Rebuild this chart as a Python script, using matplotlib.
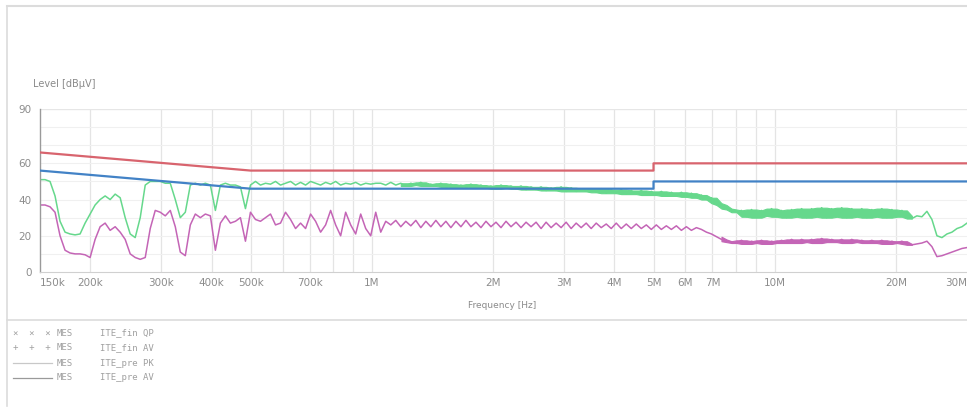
import numpy as np
import matplotlib
matplotlib.use("Agg")
import matplotlib.pyplot as plt
from matplotlib.lines import Line2D
from matplotlib.ticker import FixedLocator, NullFormatter

# ---------------- data ----------------
# scan settings (Hz)
scan_start = 150e3
scan_stop = 30e6

# limit lines (frequency in MHz, level in dBuV)
limit_f = [0.15, 0.5, 5.0, 5.0, 30.0]
qp_limit = [66, 56, 56, 60, 60]
av_limit = [56, 46, 46, 50, 50]

# peak / quasi-peak trace (dBuV), equally spaced on the log-frequency scan
trace_pk = [51, 51, 50, 42, 28, 22, 21, 20.5, 21, 27,
            32, 37, 40, 42, 40, 43, 41, 30, 21, 19,
            30, 48, 50, 50, 50, 49, 49, 40, 30, 33,
            48, 49, 48, 49, 48, 34, 48, 49, 48, 48,
            47, 35, 48, 50, 48, 49, 48.5, 50, 48, 49,
            50, 48, 49.5, 48, 50, 49, 48, 49.5, 48.5, 50,
            48, 49, 48.5, 49.5, 48, 49, 48.5, 49,
            49, 48, 49.5, 48, 49, 47.5, 49, 48, 49.5, 47.5, 48.5, 47.5, 49,
            47, 48.5, 46.5, 48, 47, 48.5, 46.5, 48, 46.5, 47.5, 46, 48, 46.5, 47.5, 46,
            47.5, 45.5, 47, 45.5, 47, 45, 46.5, 45, 47, 44.5, 46.5, 44.5, 46, 44.5, 46,
            44, 46, 43.5, 45.5, 43.5, 45.5, 43, 45, 43, 45, 42.5, 44.5,
            42.5, 44.5, 42, 44, 42, 44, 41.5, 43.5, 41,
            42.5, 40, 41, 38, 37, 35, 34.5, 33,
            34, 30.5, 34.5, 30, 34, 31, 35, 30.5, 34, 30,
            34.5, 30.5, 35, 30, 35, 30.5, 35.5, 30, 35, 30.5,
            35.5, 30, 35, 30.5, 35, 30, 34.5, 30.5, 35, 30,
            34.5, 30.5, 34,
            31, 29.5, 31, 30.5, 33.5,
            29, 20, 19, 21, 22, 24, 25, 27]

# average trace (dBuV)
trace_av = [37, 37, 36, 33, 20, 12, 10.5, 10, 10, 9.5,
            8, 18, 25, 27, 23, 25, 22, 18, 10, 8,
            7, 8, 24, 34, 33, 31, 34, 25, 11, 9,
            26, 32, 30, 32, 31, 12, 27, 31, 27, 28,
            30, 17, 33, 29, 28, 30, 32, 26, 27, 33,
            29, 24, 27, 24, 32, 28, 22, 26, 34, 26,
            20, 33, 26, 21, 32, 24, 20, 33,
            22, 28, 26,
            28.5, 25, 28, 25.5, 28.5, 24.5, 28, 25, 28.5, 25,
            28, 24.5, 28, 25, 28.5, 25, 27.5, 24.5, 28, 25,
            27.5, 24.5, 28, 25, 27.5, 24.5, 27.5, 25, 27.5, 24,
            27.5, 24.5, 27, 24.5, 27.5, 24, 27, 24.5, 27, 24,
            27, 24.5, 26.5, 24, 27, 24, 26.5, 24,
            26.5, 24, 26, 23.5, 26, 23.5, 25.5, 23.5, 25.5, 23, 25, 23, 24.5,
            23.5, 22, 21, 19.5, 18, 17, 16.5, 16,
            17.5, 15.5, 17, 16, 17.5, 15.5, 17, 16, 17.5, 16,
            18, 16, 18, 16.5, 18, 16, 18.5, 16.5, 18, 16.5,
            18, 16, 18, 16.5, 17.5, 16, 17.5, 16, 17.5, 15.5,
            17, 16, 17,
            15.5, 15, 15.5, 16, 17,
            14, 8.5, 9, 10, 11, 12, 13, 13.5]

x_tick_vals = [150e3, 200e3, 300e3, 400e3, 500e3, 700e3, 1e6, 2e6, 3e6, 4e6,
               5e6, 6e6, 7e6, 10e6, 20e6, 30e6]
x_tick_labels = ["150k", "200k", "300k", "400k", "500k", "700k", "1M", "2M", "3M", "4M",
                 "5M", "6M", "7M", "10M", "20M", "30M"]
y_tick_vals = [0, 20, 40, 60, 90]

legend_rows = [("\u00d7  \u00d7  \u00d7", "MES", "ITE_fin QP"),
               ("+  +  +", "MES", "ITE_fin AV"),
               (None, "MES", "ITE_pre PK"),
               (None, "MES", "ITE_pre AV")]

# ---------------- figure ----------------
W, H = 967, 407
fig = plt.figure(figsize=(W / 100, H / 100), dpi=100)
fig.patch.set_facecolor("white")

def fx(px):
    return px / W

def fy(py):
    return 1 - py / H

ax_left, ax_right, ax_top, ax_bot = 40, 967, 109, 272
ax = fig.add_axes([fx(ax_left), fy(ax_bot), fx(ax_right - ax_left), (ax_bot - ax_top) / H])
ax.set_xscale("log")
ax.set_xlim(scan_start, scan_stop)
ax.set_ylim(0, 90)

# grid
minor_grid = [f * m for f in (1e5, 1e6, 1e7) for m in range(1, 10)]
minor_grid = [g for g in minor_grid if scan_start < g < scan_stop]
for g in minor_grid:
    ax.axvline(g, color="#e4e4e4", lw=0.9, zorder=0)
for yv in range(10, 100, 10):
    ax.axhline(yv, color="#f0f0f0", lw=0.8, zorder=0)

# limits
lim_f = np.array(limit_f) * 1e6
ax.plot(lim_f, qp_limit, color="#d8646e", lw=1.6, zorder=3)
ax.plot(lim_f, av_limit, color="#4282c6", lw=1.6, zorder=3)

# traces
f_pk = np.geomspace(scan_start, scan_stop, len(trace_pk))
f_av = np.geomspace(scan_start, scan_stop, len(trace_av))
pk = np.array(trace_pk, dtype=float)
av = np.array(trace_av, dtype=float)
green = "#66d88c"
magenta = "#c465b6"


def envelope(v):
    """min / max of each scan point and its neighbours (dense scan shows as a band)"""
    lo = np.minimum(np.minimum(v, np.roll(v, 1)), np.roll(v, -1))
    hi = np.maximum(np.maximum(v, np.roll(v, 1)), np.roll(v, -1))
    lo[0], hi[0], lo[-1], hi[-1] = v[0], v[0], v[-1], v[-1]
    return lo, hi


ax.plot(f_pk, pk, color=green, lw=1.1, zorder=2)
ax.plot(f_av, av, color=magenta, lw=1.1, zorder=2)

pk_lo, pk_hi = envelope(pk)
m_pk = (f_pk >= 1.15e6) & (f_pk <= 22.5e6)
ax.fill_between(f_pk[m_pk], pk_lo[m_pk], pk_hi[m_pk], color=green, lw=0.8, zorder=2)
av_lo, av_hi = envelope(av)
m_av = (f_av >= 7.3e6) & (f_av <= 22.5e6)
ax.fill_between(f_av[m_av], av_lo[m_av], av_hi[m_av], color=magenta, lw=0.8, zorder=2)

# axes styling
for s in ("top", "right"):
    ax.spines[s].set_visible(False)
ax.spines["left"].set_color("#9a9a9a")
ax.spines["bottom"].set_color("#d0d0d0")
ax.spines["left"].set_linewidth(1.0)
ax.axhline(90, color="#e6e6e6", lw=0.9, zorder=0)

ax.xaxis.set_major_locator(FixedLocator(x_tick_vals))
ax.xaxis.set_minor_locator(FixedLocator([]))
ax.xaxis.set_minor_formatter(NullFormatter())
ax.set_xticklabels(x_tick_labels)
ax.set_yticks(y_tick_vals)
ax.set_yticklabels([str(v) for v in y_tick_vals])
ax.tick_params(axis="both", length=0, labelsize=7.5, labelcolor="#8c8c8c", pad=4)
ax.tick_params(axis="y", pad=6)
xl = ax.get_xticklabels()
xl[0].set_horizontalalignment("left")
xl[-1].set_horizontalalignment("right")

# labels
fig.text(fx(33), fy(84), "Level [dB\u00b5V]", fontsize=7, color="#8a8a8a", va="center", ha="left")
fig.text(fx(502), fy(305), "Frequency [Hz]", fontsize=6.5, color="#8a8a8a", va="center", ha="center")

# outer frame lines
fig.add_artist(Line2D([fx(7), fx(967)], [fy(6), fy(6)], color="#dcdcdc", lw=1.5))
fig.add_artist(Line2D([fx(7), fx(7)], [fy(6), fy(406)], color="#dcdcdc", lw=1.2))
fig.add_artist(Line2D([fx(7), fx(967)], [fy(320), fy(320)], color="#dcdcdc", lw=1.2))

# legend
row_y = [333, 348, 363, 378]
line_cols = [None, None, "#c8c8c8", "#9a9a9a"]
for (sym, mes, name), ry, lc in zip(legend_rows, row_y, line_cols):
    if sym is not None:
        fig.text(fx(13), fy(ry), sym, fontsize=6.5, color="#a0a0a0", va="center",
                 ha="left", family="DejaVu Sans Mono")
    else:
        fig.add_artist(Line2D([fx(13), fx(52)], [fy(ry), fy(ry)], color=lc, lw=0.9))
    fig.text(fx(57), fy(ry), mes, fontsize=6.5, color="#a0a0a0", va="center",
             ha="left", family="DejaVu Sans Mono")
    fig.text(fx(100), fy(ry), name, fontsize=6.5, color="#a0a0a0", va="center",
             ha="left", family="DejaVu Sans Mono")

fig.savefig("out.png", dpi=100, facecolor="white")
